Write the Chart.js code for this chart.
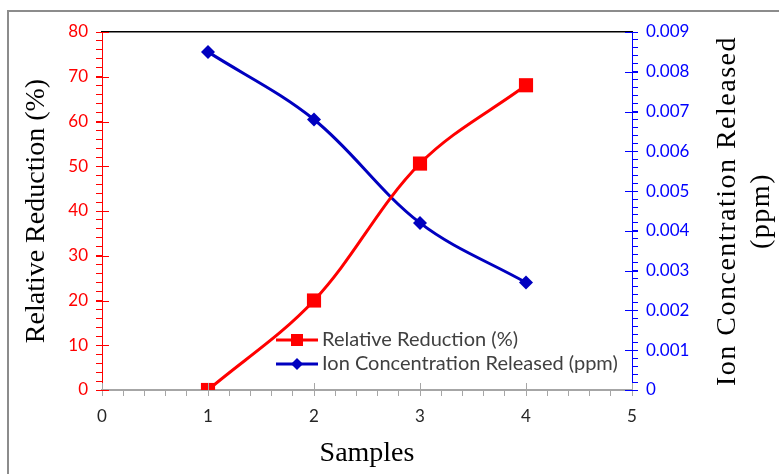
<!DOCTYPE html>
<html>
<head>
<meta charset="utf-8">
<script src="https://cdn.jsdelivr.net/npm/chart.js@4"></script>
<style>
  html, body { margin: 0; padding: 0; background: #fff; }
  #wrap { position: relative; width: 779px; height: 474px; overflow: hidden; }
  #frame { position: absolute; left: 7px; top: 10px; width: 800px; height: 500px; border-left: 2px solid #8c8c8c; border-top: 2px solid #8c8c8c; }
  canvas { position: absolute; left: 0; top: 0; }
</style>
</head>
<body>
<div id="wrap">
  <div id="frame"></div>
  <canvas id="chartCanvas" width="779" height="474"></canvas>
</div>
<script>
// data
const samples = [1, 2, 3, 4];
const relativeReduction = [0, 20, 50.6, 68.1];
const ionConcentration = [0.0085, 0.0068, 0.0042, 0.0027];

const xMajorTicks = [0, 1, 2, 3, 4, 5];
const leftMajorTicks = [0, 10, 20, 30, 40, 50, 60, 70, 80];
const rightMajorTicks = [0, 0.001, 0.002, 0.003, 0.004, 0.005, 0.006, 0.007, 0.008, 0.009];

const rightTitle = ['Ion Concentration Released', '(ppm)'];

const tickFont = { family: 'Lato', size: 17 };
const titleFont = { family: 'Liberation Serif', size: 28 };

function isMajor(value, list) {
  return list.some(m => Math.abs(m - value) < 1e-9);
}

// major ticks cross the axis line, minor ones only stick out
const majorTicksPlugin = {
  id: 'majorTicks',
  afterDraw: (chart) => {
    const { ctx, chartArea: { left, right, bottom }, scales: { x, y, y1 } } = chart;
    ctx.save();
    ctx.lineWidth = 1;
    ctx.strokeStyle = '#a6a6a6';
    xMajorTicks.forEach(v => {
      const px = Math.round(x.getPixelForValue(v)) + 0.5;
      ctx.beginPath(); ctx.moveTo(px, bottom - 7); ctx.lineTo(px, bottom + 6); ctx.stroke();
    });
    ctx.strokeStyle = 'red';
    leftMajorTicks.forEach(v => {
      const py = Math.round(y.getPixelForValue(v)) + 0.5;
      ctx.beginPath(); ctx.moveTo(left - 6, py); ctx.lineTo(left + 7, py); ctx.stroke();
    });
    ctx.strokeStyle = 'blue';
    rightMajorTicks.forEach(v => {
      const py = Math.round(y1.getPixelForValue(v)) + 0.5;
      ctx.beginPath(); ctx.moveTo(right - 7, py); ctx.lineTo(right + 6, py); ctx.stroke();
    });
    ctx.restore();
  }
};

// right title reads bottom to top, like the left one
const rightTitlePlugin = {
  id: 'rightTitle',
  afterDraw: (chart) => {
    const { ctx, chartArea: { top, bottom } } = chart;
    ctx.save();
    ctx.translate(745, (top + bottom) / 2);
    ctx.rotate(-Math.PI / 2);
    ctx.font = titleFont.size + 'px "' + titleFont.family + '"';
    ctx.letterSpacing = '1.5px';
    ctx.fillStyle = '#000';
    ctx.textAlign = 'center';
    ctx.textBaseline = 'middle';
    ctx.fillText(rightTitle[0], 0, -17);
    ctx.fillText(rightTitle[1], 0, 17);
    ctx.restore();
  }
};

// legend sits inside the plot, lower right
const legendPlugin = {
  id: 'insideLegend',
  afterDraw: (chart) => {
    const { ctx } = chart;
    const x0 = 276, y0 = 340;
    ctx.save();
    chart.data.datasets.forEach((ds, i) => {
      const yy = y0 + i * 24;
      ctx.strokeStyle = ds.borderColor;
      ctx.lineWidth = 3;
      ctx.beginPath(); ctx.moveTo(x0, yy); ctx.lineTo(x0 + 42, yy); ctx.stroke();
      ctx.fillStyle = ds.backgroundColor;
      ctx.beginPath();
      if (ds.pointStyle === 'rect') {
        ctx.rect(x0 + 21 - 6, yy - 6, 12, 12);
      } else {
        ctx.moveTo(x0 + 21, yy - 6); ctx.lineTo(x0 + 27, yy);
        ctx.lineTo(x0 + 21, yy + 6); ctx.lineTo(x0 + 15, yy);
        ctx.closePath();
      }
      ctx.fill();
      ctx.font = '20px Lato';
      ctx.fillStyle = '#404040';
      ctx.textAlign = 'left';
      ctx.textBaseline = 'middle';
      ctx.fillText(ds.label, x0 + 46, yy);
    });
    ctx.restore();
  }
};

const ctx = document.getElementById('chartCanvas').getContext('2d');

new Chart(ctx, {
  type: 'line',
  data: {
    datasets: [{
      label: 'Relative Reduction (%)',
      data: samples.map((s, i) => ({ x: s, y: relativeReduction[i] })),
      yAxisID: 'y',
      borderColor: '#ff0000',
      backgroundColor: '#ff0000',
      borderWidth: 3,
      pointStyle: 'rect',
      pointRadius: 10,
      pointBorderWidth: 0,
      tension: 0.35
    }, {
      label: 'Ion Concentration Released (ppm)',
      data: samples.map((s, i) => ({ x: s, y: ionConcentration[i] })),
      yAxisID: 'y1',
      borderColor: '#0000c0',
      backgroundColor: '#0000c0',
      borderWidth: 3,
      pointStyle: 'rectRot',
      pointRadius: 7,
      pointBorderWidth: 0,
      tension: 0.35
    }]
  },
  options: {
    responsive: false,
    animation: false,
    layout: { padding: 0 },
    plugins: {
      legend: { display: false },
      tooltip: { enabled: false }
    },
    scales: {
      x: {
        type: 'linear',
        position: 'bottom',
        min: 0,
        max: 5,
        ticks: {
          stepSize: 0.2,
          autoSkip: false,
          maxTicksLimit: 100,
          maxRotation: 0,
          padding: 10,
          font: tickFont,
          color: '#262626',
          callback: (v) => isMajor(v, xMajorTicks) ? Math.round(v) : ''
        },
        grid: { drawOnChartArea: false, tickLength: 6, color: '#a6a6a6' },
        border: { color: '#a6a6a6', width: 2 },
        title: { display: true, text: 'Samples', font: titleFont, color: '#000', padding: { top: 8 } },
        afterFit: (s) => { s.height = 84; }
      },
      xTop: {
        type: 'linear',
        position: 'top',
        min: 0,
        max: 5,
        ticks: { display: false },
        grid: { display: false },
        border: { color: '#000', width: 1.5 },
        afterFit: (s) => { s.height = 32; }
      },
      y: {
        position: 'left',
        min: 0,
        max: 80,
        ticks: {
          stepSize: 2,
          autoSkip: false,
          maxTicksLimit: 100,
          padding: 8,
          font: tickFont,
          color: '#ff0000',
          callback: (v) => isMajor(v, leftMajorTicks) ? Math.round(v) : ''
        },
        grid: { drawOnChartArea: false, tickLength: 6, color: '#ff0000' },
        border: { color: '#ff0000', width: 1 },
        title: { display: true, text: 'Relative Reduction (%)', font: titleFont, color: '#000', padding: { top: 20, bottom: 0 } },
        afterFit: (s) => { s.width = 102; }
      },
      y1: {
        position: 'right',
        min: 0,
        max: 0.009,
        ticks: {
          stepSize: 0.0002,
          autoSkip: false,
          maxTicksLimit: 100,
          padding: 8,
          font: tickFont,
          color: '#0000ff',
          callback: (v) => isMajor(v, rightMajorTicks) ? String(Math.round(v * 1000) / 1000) : ''
        },
        grid: { drawOnChartArea: false, tickLength: 6, color: '#0000ff' },
        border: { color: '#0000ff', width: 1 },
        afterFit: (s) => { s.width = 147; }
      }
    }
  },
  plugins: [majorTicksPlugin, rightTitlePlugin, legendPlugin]
});
</script>
</body>
</html>
